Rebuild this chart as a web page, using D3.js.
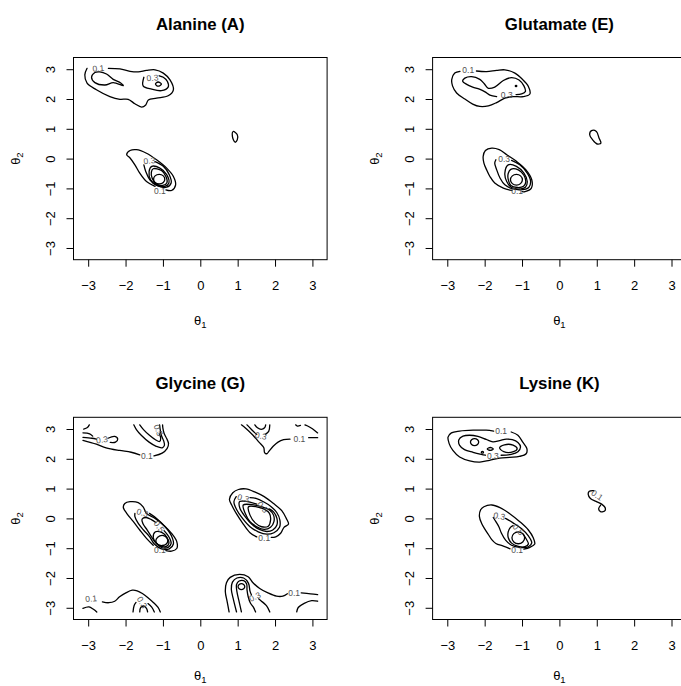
<!DOCTYPE html>
<html>
<head>
<meta charset="utf-8">
<script src="https://cdn.jsdelivr.net/npm/d3@7"></script>
<style>
  body { margin: 0; background: #fff; }
  svg text { font-family: "Liberation Sans", Arial, Helvetica, sans-serif; }
</style>
</head>
<body>
<svg id="chart" width="681" height="686"></svg>
<script>
// Ramachandran-style contour panels (theta1, theta2)

const TITLES = ['Alanine (A)', 'Glutamate (E)', 'Glycine (G)', 'Lysine (K)'];
const TICKS = [-3, -2, -1, 0, 1, 2, 3];
const DOMAIN = [-3.393, 3.393];   // R's 4% padding around [-pi, pi]

// each contour: closed loop or open piece (open where a label cuts it or at the edge)
const ALANINE_LINES = [
  { closed: false, pts: [[-2.46,3.03],[-2.15,3.01],[-1.88,2.93],[-1.66,2.91],[-1.44,2.96],[-1.21,2.98],[-0.99,2.87],[-0.81,2.64],[-0.72,2.31],[-0.86,2.11],[-1.17,2.03],[-1.39,1.97],[-1.46,1.80],[-1.57,1.73],[-1.75,1.84],[-1.93,1.99],[-2.15,1.99],[-2.42,2.08],[-2.78,2.31],[-3.03,2.53],[-3.09,2.81],[-3.03,3.03]] },
  { closed: true,  pts: [[-2.82,2.89],[-2.91,2.73],[-2.82,2.55],[-2.55,2.47],[-2.33,2.55],[-2.06,2.45],[-2.13,2.54],[-2.33,2.66],[-2.51,2.84],[-2.69,2.91]] },
  { closed: false, pts: [[-1.10,2.78],[-0.99,2.73],[-0.88,2.59],[-0.86,2.40],[-1.04,2.28],[-1.30,2.33],[-1.53,2.44],[-1.51,2.73]] },
  { closed: true,  pts: [[-1.20,2.50],[-1.13,2.57],[-1.04,2.50],[-1.13,2.43]] },
  { closed: true,  pts: [[0.88,0.91],[0.99,0.80],[0.99,0.63],[0.93,0.55],[0.86,0.74]] },
  { closed: false, pts: [[-1.21,-0.93],[-1.44,-0.77],[-1.62,-0.49],[-1.75,-0.21],[-1.88,0.02],[-1.97,0.13],[-1.88,0.27],[-1.71,0.30],[-1.44,0.18],[-1.17,-0.04],[-0.90,-0.32],[-0.72,-0.60],[-0.66,-0.88],[-0.77,-1.07],[-0.92,-1.05]] },
  { closed: false, pts: [[-1.21,-0.10],[-0.99,-0.26],[-0.83,-0.54],[-0.78,-0.82],[-0.90,-0.96],[-1.17,-0.90],[-1.35,-0.71],[-1.46,-0.43],[-1.51,-0.21]] },
  { closed: true,  pts: [[-1.30,-0.26],[-1.08,-0.32],[-0.90,-0.54],[-0.84,-0.82],[-0.95,-0.93],[-1.17,-0.89],[-1.33,-0.71],[-1.37,-0.43]] },
  { closed: true,  pts: [[-1.26,-0.34],[-1.04,-0.40],[-0.92,-0.60],[-0.89,-0.80],[-1.00,-0.90],[-1.19,-0.84],[-1.29,-0.65],[-1.31,-0.45]] },
  { closed: true,  pts: [[-1.25,-0.69],[-1.21,-0.58],[-1.10,-0.53],[-0.99,-0.58],[-0.95,-0.69],[-0.99,-0.80],[-1.10,-0.85],[-1.21,-0.80]] }
];
const ALANINE_LABELS = [[-2.73,3.03,'0.1',-5],[-1.28,2.71,'0.3',-5],[-1.36,-0.07,'0.3',-5],[-1.08,-1.08,'0.1',0]];

const GLUTAMATE_LINES = [
  { closed: false, pts: [[-2.22,2.94],[-1.95,2.92],[-1.68,2.96],[-1.46,2.98],[-1.19,2.87],[-0.99,2.66],[-0.83,2.42],[-0.79,2.17],[-0.97,2.08],[-1.24,2.08],[-1.46,2.03],[-1.68,1.88],[-1.90,1.77],[-2.13,1.75],[-2.32,1.83],[-2.53,2.00],[-2.75,2.20],[-2.86,2.44],[-2.88,2.66],[-2.80,2.87],[-2.66,2.93]] },
  { closed: false, pts: [[-1.68,2.08],[-1.86,2.13],[-1.99,2.24],[-2.14,2.33],[-2.32,2.40],[-2.48,2.49],[-2.59,2.60],[-2.53,2.70],[-2.35,2.75],[-2.13,2.66],[-2.01,2.51],[-1.90,2.36],[-1.73,2.40],[-1.50,2.62],[-1.28,2.72],[-1.08,2.64],[-0.95,2.44],[-0.91,2.25],[-1.01,2.17],[-1.16,2.15]] },
  { closed: true,  pts: [[-1.18,2.44],[-1.16,2.46],[-1.14,2.44],[-1.16,2.42]] },
  { closed: true,  pts: [[0.86,0.94],[0.99,0.91],[1.06,0.69],[1.11,0.52],[1.01,0.49],[0.89,0.63],[0.81,0.80]] },
  { closed: false, pts: [[-1.27,-1.07],[-1.50,-0.99],[-1.73,-0.82],[-1.86,-0.60],[-1.95,-0.37],[-2.02,-0.15],[-2.04,0.07],[-1.98,0.27],[-1.81,0.35],[-1.61,0.30],[-1.41,0.13],[-1.15,-0.09],[-0.90,-0.37],[-0.74,-0.71],[-0.75,-0.99],[-0.92,-1.11],[-1.00,-1.11]] },
  { closed: false, pts: [[-1.28,-0.06],[-1.06,-0.21],[-0.86,-0.49],[-0.77,-0.77],[-0.82,-0.97],[-0.99,-1.04],[-1.24,-1.02],[-1.46,-0.88],[-1.59,-0.65],[-1.68,-0.37],[-1.73,-0.15],[-1.70,-0.04]] },
  { closed: true,  pts: [[-1.37,-0.21],[-1.15,-0.26],[-0.95,-0.49],[-0.86,-0.77],[-0.91,-0.96],[-1.06,-1.02],[-1.28,-0.97],[-1.41,-0.77],[-1.46,-0.49]] },
  { closed: true,  pts: [[-1.30,-0.36],[-1.10,-0.38],[-0.95,-0.56],[-0.90,-0.78],[-0.96,-0.93],[-1.12,-0.97],[-1.30,-0.90],[-1.37,-0.70],[-1.37,-0.50]] },
  { closed: true,  pts: [[-1.31,-0.71],[-1.26,-0.58],[-1.15,-0.53],[-1.04,-0.58],[-0.99,-0.71],[-1.04,-0.84],[-1.15,-0.89],[-1.26,-0.84]] }
];
const GLUTAMATE_LABELS = [[-2.44,2.96,'0.1',0],[-1.41,2.13,'0.3',0],[-1.48,-0.03,'0.3',0],[-1.13,-1.10,'0.1',0]];

const GLYCINE_LINES = [
  { closed: false, pts: [[-3.12,3.00],[-3.02,3.05],[-2.97,3.14]] },
  { closed: false, pts: [[-3.14,2.87],[-2.96,2.84],[-2.88,2.76]] },
  { closed: false, pts: [[-3.14,2.72],[-2.90,2.69],[-2.78,2.66]] },
  { closed: false, pts: [[-2.47,2.69],[-2.29,2.75],[-2.21,2.66],[-2.27,2.56],[-2.41,2.55]] },
  { closed: false, pts: [[-3.14,2.62],[-2.78,2.49],[-2.52,2.37],[-2.16,2.28],[-1.85,2.22],[-1.62,2.13]] },
  { closed: false, pts: [[-1.24,2.10],[-1.02,2.19],[-0.89,2.34],[-0.85,2.51],[-0.90,2.68],[-0.97,2.86],[-1.00,3.02],[-1.01,3.14]] },
  { closed: false, pts: [[-1.78,3.14],[-1.71,2.98],[-1.58,2.79],[-1.37,2.56],[-1.18,2.42],[-1.02,2.37],[-0.96,2.45],[-0.98,2.60],[-1.04,2.78],[-1.07,2.96],[-1.09,3.14]] },
  { closed: false, pts: [[-1.62,3.14],[-1.52,2.98],[-1.36,2.79],[-1.20,2.64],[-1.09,2.58],[-1.06,2.70],[-1.10,2.84]] },
  { closed: false, pts: [[1.10,3.14],[1.23,3.01],[1.41,2.79],[1.57,2.56],[1.70,2.37],[1.72,2.21],[1.78,2.17],[1.84,2.26],[1.95,2.42],[2.08,2.56],[2.23,2.64],[2.40,2.66]] },
  { closed: false, pts: [[2.90,2.71],[3.14,2.71]] },
  { closed: false, pts: [[1.25,3.14],[1.35,3.01],[1.46,2.87],[1.51,2.82]] },
  { closed: false, pts: [[1.74,2.82],[1.83,2.92],[1.86,3.14]] },
  { closed: false, pts: [[1.46,3.14],[1.53,3.04],[1.63,2.99],[1.72,3.04],[1.75,3.14]] },
  { closed: false, pts: [[2.55,3.14],[2.60,3.10],[2.68,3.12]] },
  { closed: false, pts: [[2.80,3.14],[2.86,3.11],[3.00,3.01],[3.14,2.87]] },
  { closed: false, pts: [[-1.26,-0.90],[-1.44,-0.67],[-1.62,-0.39],[-1.79,-0.11],[-1.97,0.17],[-2.06,0.37],[-2.02,0.50],[-1.88,0.56],[-1.66,0.53],[-1.53,0.39],[-1.44,0.17],[-1.21,0.00],[-0.99,-0.22],[-0.77,-0.50],[-0.63,-0.78],[-0.63,-1.01],[-0.77,-1.10],[-0.92,-1.08]] },
  { closed: false, pts: [[-1.36,0.17],[-1.17,0.00],[-0.94,-0.28],[-0.77,-0.59],[-0.72,-0.86],[-0.83,-1.02],[-1.04,-1.02],[-1.23,-0.86],[-1.36,-0.61],[-1.52,-0.39],[-1.66,-0.17],[-1.75,0.06],[-1.75,0.17]] },
  { closed: false, pts: [[-0.97,-0.41],[-0.83,-0.64],[-0.78,-0.84],[-0.86,-0.97],[-1.04,-0.97],[-1.19,-0.82],[-1.31,-0.61],[-1.42,-0.39],[-1.53,-0.19],[-1.56,-0.03],[-1.45,0.03],[-1.30,-0.05],[-1.19,-0.14]] },
  { closed: true,  pts: [[-1.20,-0.45],[-1.02,-0.48],[-0.89,-0.64],[-0.84,-0.84],[-0.91,-0.94],[-1.04,-0.94],[-1.17,-0.84],[-1.26,-0.64]] },
  { closed: true,  pts: [[-1.19,-0.75],[-1.14,-0.63],[-1.02,-0.57],[-0.91,-0.63],[-0.87,-0.75],[-0.91,-0.86],[-1.02,-0.91],[-1.14,-0.87]] },
  { closed: false, pts: [[1.51,-0.62],[1.33,-0.48],[1.15,-0.19],[0.97,0.15],[0.84,0.45],[0.78,0.64],[0.87,0.86],[1.02,0.97],[1.22,0.99],[1.47,0.88],[1.71,0.73],[1.96,0.50],[2.18,0.26],[2.30,0.00],[2.36,-0.19],[2.24,-0.30],[2.15,-0.50],[2.02,-0.62],[1.90,-0.64]] },
  { closed: false, pts: [[1.33,0.70],[1.49,0.67],[1.69,0.56],[1.88,0.41],[2.05,0.19],[2.13,-0.06],[2.12,-0.30],[1.97,-0.48],[1.78,-0.53],[1.55,-0.45],[1.33,-0.28],[1.13,0.00],[0.97,0.30],[0.90,0.56],[0.96,0.73]] },
  { closed: false, pts: [[1.51,0.48],[1.33,0.55],[1.15,0.58],[1.05,0.56],[1.06,0.34],[1.20,0.06],[1.38,-0.20],[1.58,-0.37],[1.78,-0.44],[1.94,-0.39],[2.05,-0.22],[2.05,0.00],[1.96,0.22],[1.84,0.32]] },
  { closed: true,  pts: [[1.15,0.45],[1.20,0.17],[1.33,-0.11],[1.51,-0.28],[1.71,-0.37],[1.88,-0.30],[1.97,-0.11],[1.96,0.11],[1.85,0.28],[1.64,0.39],[1.38,0.46]] },
  { closed: true,  pts: [[1.29,0.39],[1.33,0.11],[1.47,-0.15],[1.64,-0.28],[1.82,-0.26],[1.88,-0.06],[1.85,0.17],[1.71,0.31],[1.51,0.39]] },
  { closed: false, pts: [[-2.62,-2.80],[-2.45,-2.83],[-2.29,-2.78],[-2.16,-2.63],[-1.98,-2.49],[-1.82,-2.41],[-1.69,-2.43],[-1.55,-2.52],[-1.40,-2.66],[-1.25,-2.83],[-1.13,-2.99],[-1.07,-3.14]] },
  { closed: false, pts: [[-3.14,-3.02],[-2.98,-2.97],[-2.86,-3.05],[-2.77,-3.14]] },
  { closed: false, pts: [[-1.80,-3.14],[-1.77,-2.92],[-1.72,-2.82]] },
  { closed: false, pts: [[-1.40,-2.86],[-1.30,-2.98],[-1.23,-3.14]] },
  { closed: false, pts: [[-1.62,-3.14],[-1.60,-3.00],[-1.52,-2.94],[-1.44,-3.02],[-1.41,-3.14]] },
  { closed: false, pts: [[0.77,-3.14],[0.72,-2.80],[0.67,-2.46],[0.70,-2.16],[0.80,-1.98],[1.05,-1.88],[1.28,-1.96],[1.41,-2.16],[1.59,-2.35],[1.81,-2.50],[2.04,-2.61],[2.21,-2.61],[2.33,-2.53]] },
  { closed: false, pts: [[2.70,-2.50],[2.95,-2.53],[3.14,-2.56]] },
  { closed: false, pts: [[0.97,-3.14],[0.89,-2.74],[0.83,-2.38],[0.86,-2.14],[0.98,-2.00],[1.16,-2.00],[1.29,-2.18],[1.33,-2.44],[1.37,-2.57]] },
  { closed: false, pts: [[1.56,-2.70],[1.63,-2.77],[1.77,-2.93],[1.86,-3.14]] },
  { closed: false, pts: [[1.10,-3.14],[1.04,-2.80],[0.98,-2.46],[0.97,-2.22],[1.04,-2.10],[1.16,-2.09],[1.24,-2.20],[1.25,-2.40],[1.28,-2.62],[1.34,-2.84],[1.42,-2.98],[1.48,-3.14]] },
  { closed: true,  pts: [[1.01,-2.29],[1.04,-2.22],[1.10,-2.19],[1.16,-2.22],[1.19,-2.29],[1.16,-2.36],[1.10,-2.39],[1.04,-2.36]] },
  { closed: false, pts: [[2.58,-3.14],[2.62,-2.99],[2.78,-2.85],[2.98,-2.76],[3.14,-2.78]] }
];
const GLYCINE_LABELS = [
  [-2.63,2.64,'0.3',-8],[-1.43,2.09,'0.1',0],[-1.12,2.96,'0.5',70],[1.62,2.77,'0.3',10],[2.65,2.68,'0.1',0],
  [-1.55,0.19,'0.3',15],[-1.10,-0.27,'0.5',55],[-1.08,-1.06,'0.1',0],
  [1.15,0.68,'0.3',15],[1.67,0.38,'0.5',50],[1.71,-0.65,'0.1',0],
  [-2.92,-2.69,'0.1',-5],[-1.56,-2.82,'0.3',60],[1.46,-2.63,'0.3',-25],[2.51,-2.52,'0.1',0]
];

const LYSINE_LINES = [
  { closed: false, pts: [[-1.29,2.90],[-1.11,2.79],[-0.98,2.56],[-0.87,2.34],[-0.89,2.17],[-1.07,2.08],[-1.33,2.05],[-1.60,2.02],[-1.87,1.95],[-2.13,1.89],[-2.40,1.93],[-2.67,2.06],[-2.85,2.28],[-2.95,2.51],[-2.98,2.73],[-2.89,2.87],[-2.67,2.93],[-2.31,2.96],[-1.96,2.96],[-1.76,2.93]] },
  { closed: false, pts: [[-1.56,2.12],[-1.29,2.15],[-1.11,2.24],[-1.04,2.40],[-1.11,2.55],[-1.26,2.64],[-1.42,2.66],[-1.60,2.61],[-1.78,2.57],[-1.96,2.65],[-2.18,2.75],[-2.40,2.79],[-2.58,2.76],[-2.69,2.64],[-2.67,2.45],[-2.54,2.31],[-2.31,2.22],[-2.09,2.15],[-1.98,2.12]] },
  { closed: true,  pts: [[-2.38,2.56],[-2.35,2.64],[-2.27,2.68],[-2.19,2.64],[-2.16,2.56],[-2.19,2.48],[-2.27,2.44],[-2.35,2.48]] },
  { closed: true,  pts: [[-1.93,2.33],[-1.85,2.38],[-1.77,2.33],[-1.85,2.28]] },
  { closed: true,  pts: [[-2.09,2.22],[-2.06,2.25],[-2.03,2.22],[-2.06,2.19]] },
  { closed: true,  pts: [[-1.60,2.37],[-1.47,2.47],[-1.24,2.46],[-1.13,2.34],[-1.23,2.24],[-1.49,2.24]] },
  { closed: false, pts: [[0.92,0.93],[0.80,0.91],[0.77,0.81],[0.83,0.67],[0.98,0.57],[1.13,0.48],[1.22,0.37],[1.22,0.26],[1.11,0.22],[1.05,0.32],[1.10,0.44]] },
  { closed: false, pts: [[-1.32,-1.02],[-1.50,-0.93],[-1.70,-0.84],[-1.81,-0.71],[-1.90,-0.54],[-1.99,-0.37],[-2.08,-0.17],[-2.14,0.06],[-2.11,0.28],[-2.02,0.39],[-1.81,0.45],[-1.59,0.36],[-1.32,0.15],[-1.06,-0.11],[-0.83,-0.39],[-0.70,-0.65],[-0.66,-0.86],[-0.79,-0.97],[-0.95,-1.03]] },
  { closed: false, pts: [[-1.44,0.00],[-1.24,-0.15],[-1.01,-0.35],[-0.83,-0.59],[-0.74,-0.82],[-0.83,-0.95],[-1.06,-0.97],[-1.28,-0.90],[-1.44,-0.73],[-1.55,-0.50],[-1.62,-0.28],[-1.70,-0.11],[-1.77,0.03]] },
  { closed: false, pts: [[-0.97,-0.53],[-0.88,-0.71],[-0.83,-0.86],[-0.92,-0.95],[-1.10,-0.94],[-1.28,-0.83],[-1.37,-0.64],[-1.37,-0.45],[-1.31,-0.30],[-1.24,-0.24]] },
  { closed: true,  pts: [[-1.27,-0.65],[-1.22,-0.51],[-1.10,-0.45],[-0.98,-0.51],[-0.93,-0.65],[-0.98,-0.79],[-1.10,-0.85],[-1.22,-0.79]] }
];
const LYSINE_LABELS = [[-1.56,2.93,'0.1',0],[-1.78,2.09,'0.3',0],[1.01,0.78,'0.1',35],[-1.61,0.08,'0.3',10],[-1.10,-0.37,'0.5',45],[-1.13,-1.06,'0.1',0]];

const PANEL_LINES = [ALANINE_LINES, GLUTAMATE_LINES, GLYCINE_LINES, LYSINE_LINES];
const PANEL_LABELS = [ALANINE_LABELS, GLUTAMATE_LABELS, GLYCINE_LABELS, LYSINE_LABELS];

const svg = d3.select('#chart');
const PW = 253.6, PH = 202.2;

TITLES.forEach((title, i) => {
  const col = i % 2, row = Math.floor(i / 2);
  const left = 73.5 + col * 359.1;
  const top = 57.5 + row * 359.8;

  const x = d3.scaleLinear().domain(DOMAIN).range([left, left + PW]);
  const y = d3.scaleLinear().domain(DOMAIN).range([top + PH, top]);

  const g = svg.append('g');

  g.append('clipPath').attr('id', 'clip' + i)
    .append('rect').attr('x', left).attr('y', top).attr('width', PW).attr('height', PH);

  const lineOpen = d3.line().x(d => x(d[0])).y(d => y(d[1])).curve(d3.curveCatmullRom.alpha(0.5));
  const lineClosed = d3.line().x(d => x(d[0])).y(d => y(d[1])).curve(d3.curveCatmullRomClosed.alpha(0.5));

  const plot = g.append('g').attr('clip-path', `url(#clip${i})`);

  plot.selectAll('path.contour')
    .data(PANEL_LINES[i])
    .enter()
    .append('path')
    .attr('class', 'contour')
    .attr('d', d => (d.closed ? lineClosed : lineOpen)(d.pts))
    .attr('fill', 'none')
    .attr('stroke', '#000')
    .attr('stroke-width', 1.3)
    .attr('stroke-linejoin', 'round')
    .attr('stroke-linecap', 'round');

  plot.selectAll('text.clabel')
    .data(PANEL_LABELS[i])
    .enter()
    .append('text')
    .attr('class', 'clabel')
    .attr('transform', d => `translate(${x(d[0])},${y(d[1])}) rotate(${d[3]})`)
    .attr('text-anchor', 'middle')
    .attr('dominant-baseline', 'central')
    .style('font-size', '8.5px')
    .style('fill', '#505050')
    .text(d => d[2]);

  // frame
  g.append('rect')
    .attr('x', left).attr('y', top).attr('width', PW).attr('height', PH)
    .attr('fill', 'none').attr('stroke', '#000').attr('stroke-width', 1);

  // axes
  const xAxis = g.append('g')
    .attr('transform', `translate(0,${top + PH})`)
    .call(d3.axisBottom(x).tickValues(TICKS).tickFormat(d3.format('d')).tickSize(7).tickSizeOuter(0));
  xAxis.select('.domain').remove();
  xAxis.selectAll('.tick line').attr('stroke', '#000');
  xAxis.selectAll('.tick text')
    .attr('y', 21)
    .attr('fill', '#000')
    .style('font-size', '13px');

  const yAxis = g.append('g')
    .attr('transform', `translate(${left},0)`)
    .call(d3.axisLeft(y).tickValues(TICKS).tickFormat(d3.format('d')).tickSize(7).tickSizeOuter(0));
  yAxis.select('.domain').remove();
  yAxis.selectAll('.tick line').attr('stroke', '#000');
  yAxis.selectAll('.tick text')
    .attr('x', null).attr('dy', null)
    .attr('text-anchor', 'middle')
    .attr('transform', 'translate(-18.5,0) rotate(-90)')
    .attr('fill', '#000')
    .style('font-size', '13px');

  // title
  g.append('text')
    .attr('x', left + PW / 2).attr('y', top - 28)
    .attr('text-anchor', 'middle')
    .style('font-size', '16.8px').style('font-weight', 'bold')
    .text(title);

  // theta labels
  const xl = g.append('text')
    .attr('x', left + PW / 2).attr('y', top + PH + (row === 0 ? 65 : 60))
    .attr('text-anchor', 'middle')
    .style('font-size', '13px');
  xl.append('tspan').text('θ');
  xl.append('tspan').attr('dy', 3).style('font-size', '9.5px').text('1');

  const yl = g.append('text')
    .attr('transform', `translate(${left - 54},${top + PH / 2}) rotate(-90)`)
    .attr('text-anchor', 'middle')
    .style('font-size', '13px');
  yl.append('tspan').text('θ');
  yl.append('tspan').attr('dy', 3).style('font-size', '9.5px').text('2');
});
</script>
</body>
</html>
